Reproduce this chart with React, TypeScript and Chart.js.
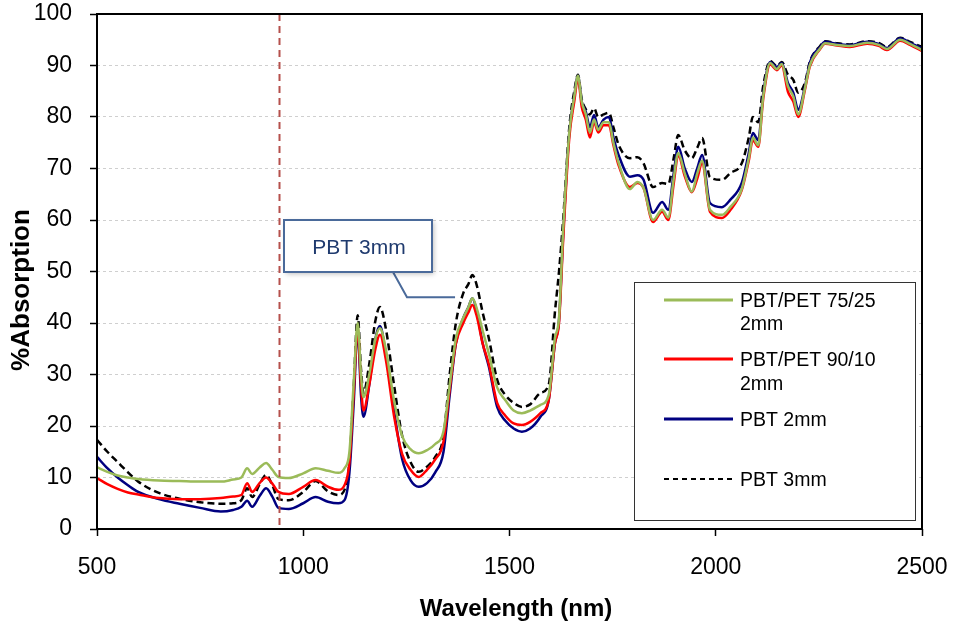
import React, { useEffect, useRef } from "react";
import { Chart, registerables } from "chart.js";

Chart.register(...registerables);

// ---------- data ----------
const wavelengths = [
  500, 525, 550, 575, 600, 650, 700, 750, 800, 830, 850, 864, 876, 895, 910, 925, 940, 965, 1000, 1030,
  1060, 1085, 1100, 1112, 1122, 1132, 1140, 1146, 1160, 1175, 1186, 1200, 1220, 1240, 1260, 1280, 1300, 1320, 1340, 1355,
  1370, 1388, 1400, 1410, 1420, 1435, 1450, 1470, 1490, 1510, 1530, 1550, 1575, 1595, 1610, 1620, 1630, 1645, 1657, 1666,
  1675, 1685, 1695, 1705, 1715, 1728, 1741, 1752, 1765, 1792, 1810, 1825, 1848, 1870, 1885, 1898, 1909, 1925, 1942, 1955,
  1967, 1986, 2015, 2035, 2063, 2080, 2090, 2103, 2115, 2132, 2148, 2160, 2175, 2188, 2200, 2216, 2228, 2253, 2265, 2294,
  2325, 2367, 2395, 2415, 2447, 2471, 2500,
];

const pbtPet7525 = [
  12.0, 11.1, 10.4, 10.0, 9.7, 9.4, 9.3, 9.2, 9.2, 9.6, 10.0, 11.8, 10.7, 12.0, 12.8, 11.5, 10.1, 9.9, 10.8, 11.8,
  11.3, 10.9, 11.8, 15, 28, 40, 30, 25.6, 30, 37, 39, 35, 25, 18, 15.5, 14.7, 15.3, 16.5, 19, 28,
  37, 41, 43, 44.8, 43, 38.5, 34, 27.5, 25, 23, 22.5, 23, 24.1, 26, 37, 41, 58, 77, 84, 88,
  83, 80.5, 77, 79.5, 77.5, 79, 79, 75, 71, 66, 67.4, 66.2, 60, 62, 60.5, 68, 73, 69, 65.5, 69,
  71.5, 62, 61, 62.5, 66, 72, 76, 74.5, 84, 90.5, 89.3, 90.3, 86, 84, 80.5, 85.5, 90, 93.3, 94.3, 94.0,
  93.8, 94.4, 94.0, 93.2, 95.0, 94.2, 93.0,
];

const pbtPet9010 = [
  9.9, 8.7, 7.8, 7.1, 6.7, 6.0, 5.8, 5.8, 6.0, 6.3, 6.6, 8.9, 7.2, 9.0, 10.0, 8.8, 7.2, 6.8, 8.2, 9.5,
  8.2, 7.6, 8.5, 13, 26, 39, 28, 23, 28, 35, 37.7, 33, 22, 14.5, 11.5, 10.1, 11.5, 13.5, 17, 27,
  36, 40, 42, 43.5, 41.5, 36, 32, 24.5, 22, 20.5, 20.2, 20.8, 22.5, 25, 36, 40, 56, 76, 83, 87.5,
  82, 79.5, 76, 79, 77, 78.4, 78.4, 74.5, 70.5, 66.4, 67.2, 66.2, 59.6, 61.6, 60, 67, 72.6, 68.5, 65.4, 68,
  71, 61.6, 60.4, 61.9, 65.8, 71.5, 75.5, 74.2, 83.5, 90.2, 89.1, 90, 84.9, 83, 80, 85.2, 89.8, 93.2, 94.2, 93.9,
  93.6, 94.2, 93.8, 93.0, 94.8, 94.0, 92.8,
];

const pbt2mm = [
  14.0, 11.8, 10.0, 8.5, 7.2, 5.8, 4.9, 4.1, 3.4, 3.7, 4.3, 5.5, 4.3, 6.5, 7.9, 6.3, 4.1, 3.9, 5.0, 6.2,
  5.3, 5.0, 5.6, 11, 24, 38.6, 26, 21.8, 28, 37, 39.4, 34, 23, 13.5, 9.5, 8.2, 8.9, 11, 15, 26,
  36, 41, 43, 44.8, 42.5, 36, 31.5, 23.7, 21, 19.5, 18.9, 19.5, 21.8, 25, 36, 40.5, 57, 77, 84, 88,
  83, 81, 78, 80.4, 78, 79.5, 80, 76, 72.5, 68.4, 68.7, 67.8, 61.4, 63.5, 62, 69, 74.2, 70, 67.4, 70,
  72.6, 63.3, 62.5, 63.9, 67.2, 73, 76.9, 75.5, 84.5, 90.7, 89.7, 90.5, 86.6, 84.7, 81.4, 85.8, 90.5, 93.6, 94.6, 94.2,
  94.0, 94.6, 94.2, 93.4, 95.3, 94.4, 93.4,
];

const pbt3mm = [
  17.3, 15.0, 13.0, 11.0, 9.2, 7.0, 5.9, 5.2, 4.9, 5.0, 5.6, 7.9, 6.2, 8.8, 10.5, 8.5, 5.8, 5.6, 7.2, 9.3,
  7.3, 6.6, 7.6, 13, 27, 41.5, 31, 26.4, 32, 40.5, 43.1, 39, 28, 18, 13, 11.1, 12.1, 14, 18, 30,
  40, 45.8, 47.5, 49.3, 47.5, 42, 37, 29, 26, 24.5, 23.7, 24.2, 26.4, 28, 42, 50, 60, 78, 85, 88.2,
  83.5, 81.5, 80.5, 81.7, 80, 80.5, 80.8, 78, 74.5, 72, 72.2, 71, 66.4, 67.2, 67, 72, 76.5, 73.5, 72, 74,
  75.9, 68.3, 67.8, 69.1, 71, 76, 80, 79, 86, 90.9, 89.9, 90.7, 88.2, 87.2, 84.7, 86.6, 90.7, 93.8, 94.7, 94.3,
  94.1, 94.7, 94.4, 93.6, 95.4, 94.6, 93.6,
];

const xTicks = [500, 1000, 1500, 2000, 2500];
const yTicks = [0, 10, 20, 30, 40, 50, 60, 70, 80, 90, 100];
const markerWavelength = 940;
const calloutText = "PBT 3mm";
const calloutTarget = [1368, 45];
const legendLabels = [["PBT/PET 75/25", "2mm"], ["PBT/PET 90/10", "2mm"], ["PBT 2mm"], ["PBT 3mm"]];
const xTitle = "Wavelength (nm)";
const yTitle = "%Absorption";

const FONT = "'Liberation Sans', Arial, sans-serif";
const COLORS = ["#9bbb59", "#ff0000", "#000080", "#000000"];

const overlayPlugin = {
  id: "overlay",
  afterDatasetsDraw(chart: any) {
    const { ctx, chartArea: a, scales } = chart;
    const x = scales.x;
    const px = Math.round(x.getPixelForValue(markerWavelength)) + 0.5;
    ctx.save();
    ctx.strokeStyle = "#b5504c";
    ctx.lineWidth = 2;
    ctx.setLineDash([7, 5]);
    ctx.beginPath();
    ctx.moveTo(px, a.top);
    ctx.lineTo(px, a.bottom);
    ctx.stroke();
    ctx.restore();
    ctx.save();
    ctx.strokeStyle = "#000";
    ctx.lineWidth = 2;
    ctx.strokeRect(a.left, a.top, a.right - a.left, a.bottom - a.top);
    ctx.restore();
  },
  afterDraw(chart: any) {
    const { ctx, scales } = chart;
    const x = scales.x;
    const y = scales.y;

    ctx.save();
    ctx.fillStyle = "#000";
    ctx.font = `bold 24px ${FONT}`;
    ctx.textAlign = "center";
    ctx.textBaseline = "middle";
    ctx.fillText(xTitle, 516, 609);
    ctx.translate(22, 290);
    ctx.rotate(-Math.PI / 2);
    ctx.font = `bold 26px ${FONT}`;
    ctx.fillText(yTitle, 0, 0);
    ctx.restore();

    const lx = 634, ly = 282, lw = 281, lh = 238;
    ctx.save();
    ctx.fillStyle = "#fff";
    ctx.fillRect(lx, ly, lw, lh);
    ctx.strokeStyle = "#333";
    ctx.lineWidth = 1;
    ctx.strokeRect(lx + 0.5, ly + 0.5, lw, lh);
    const rows = [
      { line: 300, text: [302, 325] },
      { line: 359, text: [361, 385] },
      { line: 419, text: [421] },
      { line: 479, text: [481] },
    ];
    rows.forEach((r, i) => {
      ctx.save();
      ctx.strokeStyle = COLORS[i];
      ctx.lineWidth = i === 3 ? 2 : 3;
      ctx.setLineDash(i === 3 ? [5, 4] : []);
      ctx.beginPath();
      ctx.moveTo(664, r.line);
      ctx.lineTo(733, r.line);
      ctx.stroke();
      ctx.restore();
      ctx.fillStyle = "#000";
      ctx.font = `19.5px ${FONT}`;
      ctx.textAlign = "left";
      ctx.textBaseline = "middle";
      legendLabels[i].forEach((t, j) => ctx.fillText(t, 740, r.text[j]));
    });
    ctx.restore();

    const tx = x.getPixelForValue(calloutTarget[0]);
    const ty = y.getPixelForValue(calloutTarget[1]);
    const bx = 284, by = 220, bw = 148, bh = 52;
    ctx.save();
    ctx.strokeStyle = "#4a6a9a";
    ctx.lineWidth = 2;
    ctx.beginPath();
    ctx.moveTo(393, by + bh);
    ctx.lineTo(407, ty);
    ctx.lineTo(tx, ty);
    ctx.stroke();
    ctx.shadowColor = "rgba(0,0,0,0.25)";
    ctx.shadowBlur = 5;
    ctx.shadowOffsetX = 2;
    ctx.shadowOffsetY = 2;
    ctx.fillStyle = "#fff";
    ctx.fillRect(bx, by, bw, bh);
    ctx.shadowColor = "transparent";
    ctx.strokeRect(bx, by, bw, bh);
    ctx.fillStyle = "#1f3a6e";
    ctx.font = `21px ${FONT}`;
    ctx.textAlign = "center";
    ctx.textBaseline = "middle";
    ctx.fillText(calloutText, bx + bw / 2 + 1, by + bh / 2 + 2);
    ctx.restore();
  },
};

export default function App() {
  const ref = useRef<HTMLCanvasElement>(null);

  useEffect(() => {
    document.body.style.margin = "0";
    const series = [pbtPet7525, pbtPet9010, pbt2mm, pbt3mm];
    const names = ["PBT/PET 75/25 2mm", "PBT/PET 90/10 2mm", "PBT 2mm", "PBT 3mm"];
    const chart = new Chart(ref.current as HTMLCanvasElement, {
      type: "line",
      data: {
        datasets: series.map((vals, i) => ({
          label: names[i],
          data: wavelengths.map((w, k) => ({ x: w, y: vals[k] })),
          borderColor: COLORS[i],
          backgroundColor: COLORS[i],
          borderWidth: 2.5,
          borderDash: i === 3 ? [7, 4] : [],
          pointRadius: 0,
          cubicInterpolationMode: "monotone" as const,
          fill: false,
        })),
      },
      options: {
        responsive: false,
        animation: false,
        layout: { padding: { left: 0, top: 14, right: 32, bottom: 0 } },
        plugins: { legend: { display: false }, tooltip: { enabled: false } },
        scales: {
          x: {
            type: "linear",
            min: 500,
            max: 2500,
            afterBuildTicks: (s: any) => {
              s.ticks = xTicks.map((v) => ({ value: v }));
            },
            afterFit: (s: any) => {
              s.height = 96;
              s.paddingLeft = 0;
              s.paddingRight = 0;
            },
            grid: { display: true, drawOnChartArea: false, drawTicks: true, tickLength: 7, tickColor: "#000", tickWidth: 1.5 },
            border: { display: false },
            ticks: {
              color: "#000",
              font: { family: FONT, size: 23 },
              padding: 18,
              maxRotation: 0,
              callback: (v: any) => String(v),
            },
          },
          y: {
            type: "linear",
            min: 0,
            max: 100,
            afterBuildTicks: (s: any) => {
              s.ticks = yTicks.map((v) => ({ value: v }));
            },
            afterFit: (s: any) => {
              s.width = 97;
              s.paddingTop = 0;
              s.paddingBottom = 0;
            },
            grid: { display: true, drawOnChartArea: true, color: "#cfcfcf", lineWidth: 1, drawTicks: true, tickLength: 7, tickColor: "#000", tickWidth: 1.5 },
            border: { display: false, dash: [3, 3] },
            ticks: { color: "#000", font: { family: FONT, size: 23 }, padding: 18, callback: (v: any) => String(v) },
          },
        },
      },
      plugins: [overlayPlugin],
    });
    return () => chart.destroy();
  }, []);

  return <canvas ref={ref} width={954} height={625} style={{ display: "block" }} />;
}
